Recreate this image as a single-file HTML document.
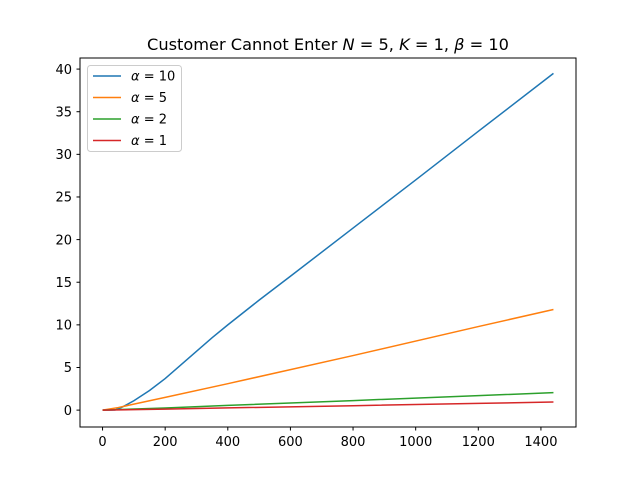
<!DOCTYPE html>
<html><head><meta charset="utf-8"><style>
body{margin:0;background:#fff;}
svg text{font-family:"DejaVu Sans","Liberation Sans",sans-serif;}
</style></head><body>
<svg id="chart" width="640" height="480" xmlns="http://www.w3.org/2000/svg">
<rect width="640" height="480" fill="#fff"/>
<text x="328" y="50" text-anchor="middle" font-size="16.2">Customer Cannot Enter <tspan font-style="italic">N</tspan> = 5, <tspan font-style="italic">K</tspan> = 1, <tspan font-style="italic">β</tspan> = 10</text>
<g id="plot"></g>
<rect x="80" y="58" width="496" height="369" fill="none" stroke="#000" stroke-width="1"/>
<g id="legend">
<rect x="87.5" y="65.5" width="94" height="86" rx="3" fill="#fff" fill-opacity="0.8" stroke="#ccc"/>
</g>
</svg>
<script>
const xTicks=[0,200,400,600,800,1000,1200,1400];
const yTicks=[0,5,10,15,20,25,30,35,40];
const labels=["10","5","2","1"];
const colors=["#1f77b4","#ff7f0e","#2ca02c","#d62728"];
const xBlue=[0,20,40,60,100,150,200,250,300,350,400,500,600,800,1000,1200,1440];
const yBlue=[0,0,0.02,0.3,1.1,2.3,3.7,5.3,6.9,8.5,10.0,12.9,15.7,21.35,27.0,32.7,39.5];
const xOrange=[0,50,100,200,400,800,1200,1440];
const yOrange=[0,0.3,0.7,1.5,3.1,6.4,9.8,11.8];
const xGreen=[0,200,400,800,1200,1440];
const yGreen=[0,0.25,0.55,1.12,1.7,2.05];
const xRed=[0,200,400,800,1200,1440];
const yRed=[0,0.12,0.26,0.52,0.79,0.95];
const X0=80,X1=576,Y0=427,Y1=58;
const xmin=-72,xmax=1512,ymin=-1.98,ymax=41.3;
const sx=v=>X0+(v-xmin)/(xmax-xmin)*(X1-X0);
const sy=v=>Y0-(v-ymin)/(ymax-ymin)*(Y0-Y1);
const NS="http://www.w3.org/2000/svg";
const svg=document.getElementById('chart');
const plot=document.getElementById('plot');
function mk(t,a,p){const e=document.createElementNS(NS,t);for(const k in a)e.setAttribute(k,a[k]);(p||svg).appendChild(e);return e;}
xTicks.forEach(v=>{
 const l=mk('line',{x1:sx(v),x2:sx(v),y1:427,y2:430.5,stroke:'#000'});
 
 
 const t=mk('text',{x:sx(v),y:446,'text-anchor':'middle','font-size':13});
 t.textContent=v;
 
 
});
yTicks.forEach(v=>{
 const l=mk('line',{x1:76.5,x2:80,y1:sy(v),y2:sy(v),stroke:'#000'});
 
 
 const t=mk('text',{x:72,y:sy(v)+4.7,'text-anchor':'end','font-size':13});
 t.textContent=v;
 
 
});
const series=[[xBlue,yBlue],[xOrange,yOrange],[xGreen,yGreen],[xRed,yRed]];
series.forEach((s,i)=>{
 const d=s[0].map((x,j)=>(j?'L':'M')+sx(x).toFixed(2)+','+sy(s[1][j]).toFixed(2)).join('');
 const p=mk('path',{d:d,fill:'none',stroke:colors[i],'stroke-width':1.5},plot);
 
 
});
const lg=document.getElementById('legend');
labels.forEach((lab,i)=>{
 const y=76+i*21.5;
 const l=mk('line',{x1:93,x2:121,y1:y,y2:y,stroke:colors[i],'stroke-width':1.5},lg);
 
 
 const t=mk('text',{x:131,y:y+4.7,'font-size':13},lg);
 t.innerHTML='<tspan font-style="italic">α</tspan> = ' + lab;
 
 
});
</script>
</body></html>
